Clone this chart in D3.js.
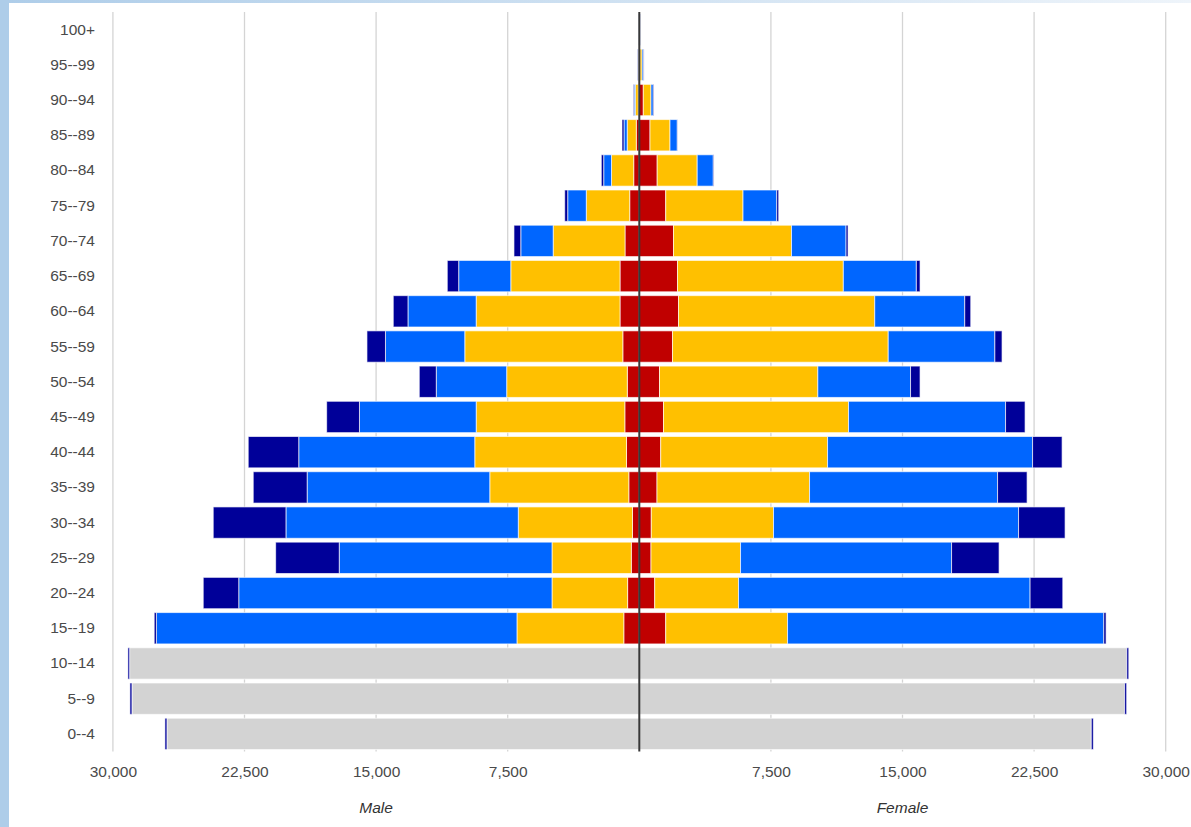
<!DOCTYPE html>
<html>
<head>
<meta charset="utf-8">
<script src="https://cdn.jsdelivr.net/npm/d3@7"></script>
<style>
  html, body { margin: 0; padding: 0; background: #fff; }
  svg { display: block; font-family: "Liberation Sans", Arial, sans-serif; }
</style>
</head>
<body>
<svg id="chart" width="1191" height="827"></svg>
<script>
// age groups, top of the pyramid first
var ages = ["100+","95--99","90--94","85--89","80--84","75--79","70--74","65--69","60--64","55--59",
            "50--54","45--49","40--44","35--39","30--34","25--29","20--24","15--19","10--14","5--9","0--4"];

// male side (left), innermost segment first
var maleRed    = [0, 10, 60, 171, 319, 547, 815, 1100, 1100, 940, 684, 826, 730, 599, 388, 456, 667, 884, 0, 0, 0];
var maleYellow = [10, 40, 170, 519, 1265, 2474, 4093, 6224, 8197, 9006, 6874, 8470, 8647, 7923, 6509, 4520, 4309, 6088, 0, 0, 0];
var maleBlue   = [10, 40, 70, 182, 445, 1060, 1847, 2970, 3887, 4520, 4013, 6652, 10032, 10408, 13241, 12124, 17852, 20549, 0, 0, 0];
var maleGray   = [0, 0, 0, 0, 0, 0, 0, 0, 0, 0, 0, 0, 0, 0, 0, 0, 0, 0, 29047, 28915, 26920];
var maleNavy   = [10, 25, 40, 114, 137, 171, 388, 650, 838, 1055, 969, 1870, 2879, 3072, 4144, 3625, 2024, 125, 97, 115, 115];

// female side (right)
var femaleRed    = [10, 40, 228, 610, 1020, 1505, 1949, 2177, 2234, 1892, 1151, 1379, 1220, 1009, 684, 667, 878, 1505, 0, 0, 0];
var femaleYellow = [20, 120, 439, 1140, 2280, 4406, 6726, 9451, 11183, 12295, 9023, 10545, 9508, 8693, 6965, 5102, 4777, 6943, 0, 0, 0];
var femaleBlue   = [20, 80, 131, 416, 918, 1921, 3107, 4161, 5130, 6076, 5284, 8949, 11685, 10716, 13965, 12027, 16616, 18023, 0, 0, 0];
var femaleGray   = [0, 0, 0, 0, 0, 0, 0, 0, 0, 0, 0, 0, 0, 0, 0, 0, 0, 0, 27782, 27660, 25760];
var femaleNavy   = [10, 30, 40, 20, 40, 114, 114, 211, 342, 410, 542, 1112, 1682, 1682, 2651, 2708, 1864, 131, 114, 115, 115];

var tickValues = [-30000, -22500, -15000, -7500, 7500, 15000, 22500, 30000];

var keys = ["red", "yellow", "blue", "gray", "navy"];
var colors = {red: "#c00000", yellow: "#ffc000", blue: "#0066ff", gray: "#d3d3d3", navy: "#000099"};

var maleRows = ages.map(function(a, i) {
  return {age: a, red: maleRed[i], yellow: maleYellow[i], blue: maleBlue[i], gray: maleGray[i], navy: maleNavy[i]};
});
var femaleRows = ages.map(function(a, i) {
  return {age: a, red: femaleRed[i], yellow: femaleYellow[i], blue: femaleBlue[i], gray: femaleGray[i], navy: femaleNavy[i]};
});

var svg = d3.select("#chart");

// page frame strips
var grad = svg.append("defs").append("linearGradient").attr("id", "topStrip");
grad.append("stop").attr("offset", "0%").attr("stop-color", "#aecde9");
grad.append("stop").attr("offset", "100%").attr("stop-color", "#eef4fa");
svg.append("rect").attr("x", 0).attr("y", 0).attr("width", 1191).attr("height", 3).attr("fill", "url(#topStrip)");
svg.append("rect").attr("x", 0).attr("y", 0).attr("width", 9).attr("height", 827).attr("fill", "#aecde9");

var plotTop = 12, plotBottom = 751.5;
var x = d3.scaleLinear().domain([-30000, 30000]).range([112.9, 1165.7]);
var y = d3.scaleBand().domain(ages).range([plotTop, plotBottom]).paddingInner(0.11).paddingOuter(0.055);

// grid
svg.append("g").selectAll("line")
  .data(tickValues)
  .join("line")
  .attr("x1", function(d) { return x(d); })
  .attr("x2", function(d) { return x(d); })
  .attr("y1", plotTop).attr("y2", plotBottom)
  .attr("stroke", "#d4d4d4")
  .attr("stroke-width", 1.3);

var stack = d3.stack().keys(keys);

function drawSide(rows, sign) {
  var layers = stack(rows);
  svg.append("g").selectAll("g")
    .data(layers)
    .join("g")
    .attr("fill", function(d) { return colors[d.key]; })
    .selectAll("rect")
    .data(function(d) { return d.filter(function(s) { return s[1] - s[0] > 0; }); })
    .join("rect")
    .attr("x", function(d) { return Math.min(x(sign * d[0]), x(sign * d[1])); })
    .attr("width", function(d) { return Math.abs(x(sign * d[1]) - x(sign * d[0])); })
    .attr("y", function(d) { return y(d.data.age); })
    .attr("height", y.bandwidth())
    .attr("stroke", "#fff")
    .attr("stroke-opacity", 0.65)
    .attr("stroke-width", 1);
}
drawSide(maleRows, -1);
drawSide(femaleRows, 1);

// center line
svg.append("line")
  .attr("x1", x(0)).attr("x2", x(0))
  .attr("y1", plotTop).attr("y2", plotBottom)
  .attr("stroke", "#383838")
  .attr("stroke-width", 2);

// age axis
var yAxis = svg.append("g")
  .attr("transform", "translate(103,0)")
  .call(d3.axisLeft(y).tickSize(0).tickPadding(8));
yAxis.select(".domain").remove();
yAxis.selectAll("text").attr("fill", "#4a4a4a").style("font-size", "15.5px").attr("font-family", null);

// value axis
var xAxis = svg.append("g")
  .attr("transform", "translate(0," + plotBottom + ")")
  .call(d3.axisBottom(x).tickValues(tickValues).tickSize(0).tickPadding(14)
        .tickFormat(function(d) { return d3.format(",")(Math.abs(d)); }));
xAxis.select(".domain").remove();
xAxis.selectAll("text").attr("fill", "#4a4a4a").style("font-size", "15.5px").attr("font-family", null);

// side titles
svg.append("text")
  .attr("x", x(-15000)).attr("y", 813)
  .attr("text-anchor", "middle")
  .style("font-size", "15.5px").style("font-style", "italic")
  .attr("fill", "#333")
  .text("Male");
svg.append("text")
  .attr("x", x(15000)).attr("y", 813)
  .attr("text-anchor", "middle")
  .style("font-size", "15.5px").style("font-style", "italic")
  .attr("fill", "#333")
  .text("Female");
</script>
</body>
</html>
